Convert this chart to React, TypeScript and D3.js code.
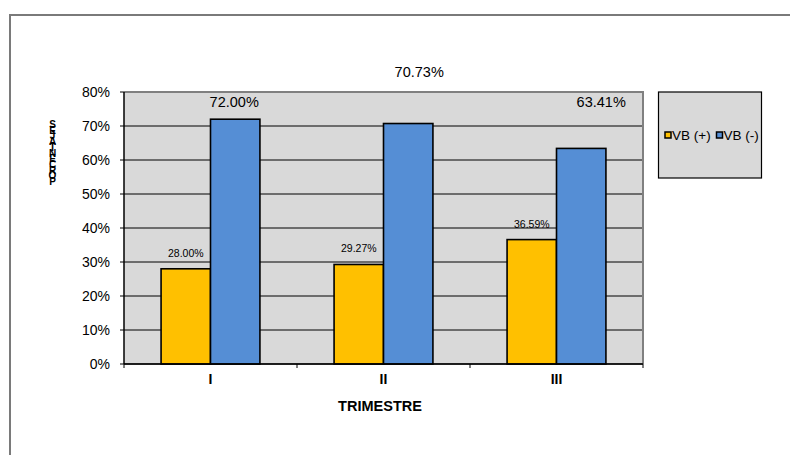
import React from "react";
import * as d3 from "d3";

const categories = ["I", "II", "III"];
const seriesNames = ["VB (+)", "VB (-)"];
const vbPos = [28.0, 29.27, 36.59];
const vbNeg = [72.0, 70.73, 63.41];
const yTicks = [0, 10, 20, 30, 40, 50, 60, 70, 80];
const yTitle = "PORCENTAJES";
const xTitle = "TRIMESTRE";

const colors = ["#FFC000", "#558ED5"];
// manual label nudges (px) as placed in the original chart
const negLabelNudge: [number, number][] = [
  [-1, 0],
  [11, -34.5],
  [20, -29],
];

const W = 790;
const H = 455;
const plot = { left: 124, right: 643, top: 92, bottom: 364 };
const FONT = "'Liberation Sans', Arial, sans-serif";

export default function App() {
  const x0 = d3
    .scaleBand<string>()
    .domain(categories)
    .range([plot.left, plot.right])
    .padding(0);
  const barW = x0.bandwidth() / 3.5;
  const x1 = d3
    .scaleBand<string>()
    .domain(seriesNames)
    .range([0, barW * 2])
    .padding(0);
  const groupOffset = (x0.bandwidth() - barW * 2) / 2;
  const y = d3.scaleLinear().domain([0, 80]).range([plot.bottom, plot.top]);

  const series = [vbPos, vbNeg];
  const fmt = (v: number) => v.toFixed(2) + "%";

  const catBoundaries = [plot.left, ...categories.map((c) => (x0(c) as number) + x0.bandwidth())];

  const stacked = yTitle.split("").reverse().join("");

  return (
    <div style={{ position: "absolute", left: 0, top: 0 }}>
      <svg width={W} height={H} style={{ display: "block", fontFamily: FONT }}>
        <rect x={0} y={0} width={W} height={H} fill="#ffffff" />
        {/* outer chart border */}
        <path d={`M10,${H} L10,15 L${W},15`} fill="none" stroke="#7a7a7a" strokeWidth={2} />

        {/* plot area */}
        <rect
          x={plot.left}
          y={plot.top}
          width={plot.right - plot.left}
          height={plot.bottom - plot.top}
          fill="#D9D9D9"
        />
        {yTicks.map((t) => (
          <line
            key={"g" + t}
            x1={plot.left}
            x2={plot.right}
            y1={y(t)}
            y2={y(t)}
            stroke="#000"
            strokeWidth={1}
          />
        ))}
        {/* plot border top/right */}
        <path
          d={`M${plot.left},${plot.top} L${plot.right},${plot.top} L${plot.right},${plot.bottom}`}
          fill="none"
          stroke="#808080"
          strokeWidth={2}
        />

        {/* bars */}
        {series.map((vals, si) =>
          vals.map((v, ci) => {
            const bx = (x0(categories[ci]) as number) + groupOffset + (x1(seriesNames[si]) as number);
            return (
              <rect
                key={`b${si}-${ci}`}
                x={bx}
                y={y(v)}
                width={barW}
                height={plot.bottom - y(v)}
                fill={colors[si]}
                stroke="#000"
                strokeWidth={1.6}
              />
            );
          })
        )}

        {/* axes */}
        <line x1={plot.left} x2={plot.left} y1={plot.top} y2={plot.bottom} stroke="#000" strokeWidth={1.5} />
        <line x1={plot.left} x2={plot.right} y1={plot.bottom} y2={plot.bottom} stroke="#000" strokeWidth={1.5} />
        {yTicks.map((t) => (
          <g key={"yt" + t}>
            <line x1={plot.left - 4} x2={plot.left} y1={y(t)} y2={y(t)} stroke="#000" strokeWidth={1} />
            <text x={110} y={y(t)} dy="0.35em" textAnchor="end" fontSize={14} fill="#000">
              {t}%
            </text>
          </g>
        ))}
        {catBoundaries.map((bx, i) => (
          <line key={"xt" + i} x1={bx} x2={bx} y1={plot.bottom} y2={plot.bottom + 4} stroke="#000" strokeWidth={1} />
        ))}
        {categories.map((c) => (
          <text
            key={"xl" + c}
            x={(x0(c) as number) + x0.bandwidth() / 2}
            y={379}
            dy="0.35em"
            textAnchor="middle"
            fontSize={14}
            fontWeight="bold"
            fill="#000"
          >
            {c}
          </text>
        ))}

        {/* data labels */}
        {vbPos.map((v, ci) => {
          const cx = (x0(categories[ci]) as number) + groupOffset + (x1(seriesNames[0]) as number) + barW / 2;
          return (
            <text key={"lp" + ci} x={cx} y={y(v) - 12} textAnchor="middle" fontSize={10.5} fill="#000">
              {fmt(v)}
            </text>
          );
        })}
        {vbNeg.map((v, ci) => {
          const cx = (x0(categories[ci]) as number) + groupOffset + (x1(seriesNames[1]) as number) + barW / 2;
          const [dx, dy] = negLabelNudge[ci];
          return (
            <text key={"ln" + ci} x={cx + dx} y={y(v) - 12 + dy} textAnchor="middle" fontSize={14.5} fill="#000">
              {fmt(v)}
            </text>
          );
        })}

        {/* axis titles */}
        <text x={380} y={406} dy="0.35em" textAnchor="middle" fontSize={14.5} fontWeight="bold" fill="#000">
          {xTitle}
        </text>
        <text
          x={52.5}
          y={119}
          fontSize={10}
          fontWeight="bold"
          fill="#000"
          letterSpacing={-5.3}
          style={{ writingMode: "vertical-rl", textOrientation: "upright" } as any}
        >
          {stacked}
        </text>

        {/* legend */}
        <rect x={658.5} y={92} width={103} height={86} fill="#D9D9D9" stroke="#000" strokeWidth={1.2} />
        {seriesNames.map((s, i) => {
          const lx = [665, 716.5][i];
          return (
            <g key={"lg" + i}>
              <rect x={lx} y={132} width={6} height={6} fill={colors[i]} stroke="#000" strokeWidth={1.5} />
              <text x={lx + 7} y={135} dy="0.35em" fontSize={13.5} fill="#000">
                {s}
              </text>
            </g>
          );
        })}
      </svg>
    </div>
  );
}
